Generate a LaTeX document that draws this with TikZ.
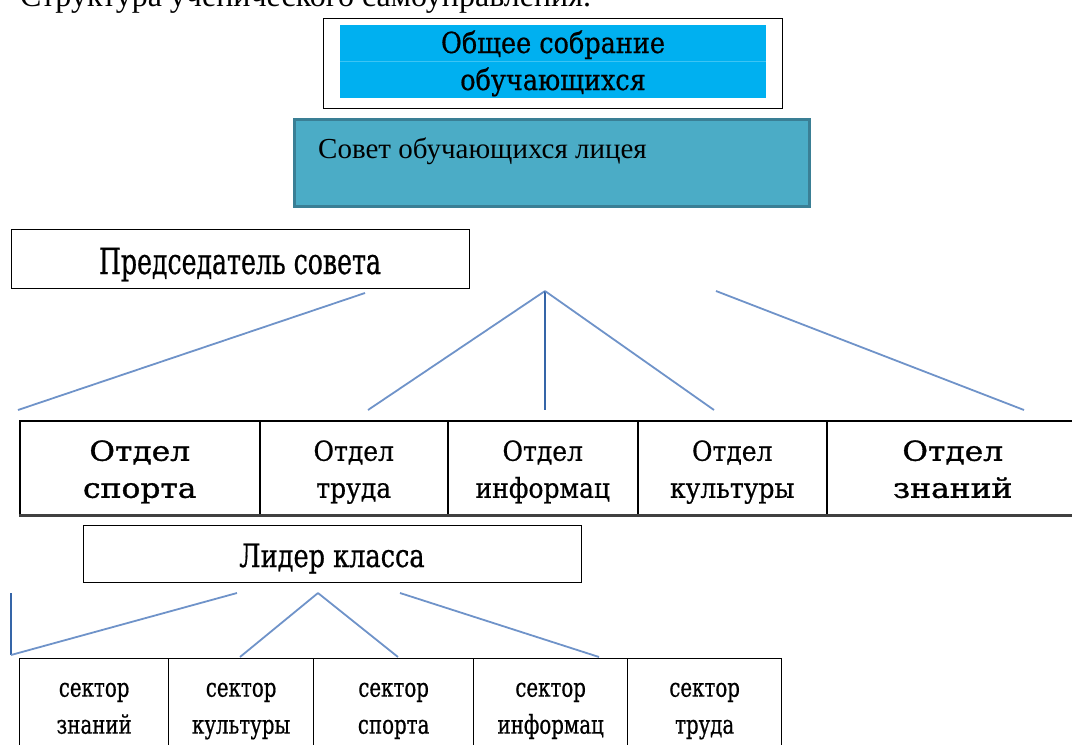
\documentclass[tikz,border=0pt]{standalone}
\usepackage{fontspec}
\setmainfont{Liberation Serif}
\newfontfamily\predf[FakeStretch=0.70,FakeBold=0.6]{DejaVu Serif}
\newfontfamily\lidf[FakeStretch=0.80,FakeBold=0.6]{DejaVu Serif}
\newfontfamily\genf[FakeStretch=0.88,FakeBold=0.6]{DejaVu Serif}
\newfontfamily\deptf[FakeStretch=0.91,FakeBold=0.6]{DejaVu Serif}
\newfontfamily\deptwf[FakeStretch=1.14,FakeBold=1.2]{DejaVu Serif}
\newfontfamily\sectf[FakeStretch=0.76,FakeBold=0.6]{DejaVu Serif}
\newcommand{\dstr}{\rule[-7pt]{0pt}{37pt}}
\newcommand{\sstr}{\rule[-11pt]{0pt}{37pt}}
\definecolor{cyanfill}{HTML}{00B0F0}
\definecolor{cyanline}{HTML}{3CC4F4}
\definecolor{tealfill}{HTML}{4BACC6}
\definecolor{tealdraw}{HTML}{3A7F95}
\definecolor{conn}{HTML}{6F93C9}
\definecolor{connd}{HTML}{3565A8}
\definecolor{rowbot}{HTML}{404040}
\begin{document}
\begin{tikzpicture}[x=1pt,y=-1pt,
  plainbox/.style={draw=black, line width=1.3pt, fill=white, anchor=north west, inner sep=0pt},
  cyancell/.style={fill=cyanfill, anchor=north west, inner sep=0pt, minimum width=426pt, minimum height=36.5pt},
  label/.style={anchor=base, inner sep=0pt},
  deptcell/.style={draw=black, line width=1.5pt, anchor=north west, inner sep=0pt, minimum height=94pt, align=center, font=\deptf\fontsize{27.5}{37}\selectfont},
  deptwide/.style={deptcell, font=\deptwf\fontsize{27.5}{37}\selectfont},
  sectcell/.style={draw=black, line width=1.3pt, anchor=north west, inner sep=0pt, minimum height=98pt, align=center, font=\sectf\fontsize{26}{37}\selectfont},
  link/.style={draw=conn, line width=1.8pt},
  vlink/.style={draw=connd, line width=2.2pt}]
\useasboundingbox (0,0) rectangle (1072,745);
\clip (0,0) rectangle (1072,745);

% title (cut off at top)
\node[anchor=base west, inner sep=0pt, font=\fontsize{32}{38}\selectfont] (title) at (20,6) {Структура ученического самоуправления.};

% general meeting
\node[plainbox, minimum width=459pt, minimum height=90pt] (gen) at (323,18) {};
\node[cyancell] (gen1) at (340,25) {};
\node[cyancell] (gen2) at (340,61.5) {};
\draw[cyanline, line width=1pt] (gen1.south west) -- (gen1.south east);
\node[label, font=\genf\fontsize{29}{34}\selectfont] (gen1t) at (553,53) {Общее собрание};
\node[label, font=\genf\fontsize{29}{34}\selectfont] (gen2t) at (553,90) {обучающихся};

% council
\node[draw=tealdraw, line width=3pt, fill=tealfill, anchor=north west, inner sep=0pt, minimum width=515pt, minimum height=87pt] (sov) at (293,118) {};
\node[anchor=base west, inner sep=0pt, font=\fontsize{29}{34}\selectfont] (sovt) at (318,158) {Совет обучающихся лицея};

% chairman
\node[plainbox, minimum width=458pt, minimum height=59pt] (pred) at (11,229) {};
\node[label, font=\predf\fontsize{36}{42}\selectfont] (predt) at (240,274) {Председатель совета};

% connectors upper
\coordinate (c1a) at (365,293);
\coordinate (c1b) at (18,410);
\coordinate (c2a) at (545,291);
\coordinate (c2b) at (368,410);
\coordinate (c3b) at (545,410);
\coordinate (c4b) at (714,410);
\coordinate (c5a) at (716,291);
\coordinate (c5b) at (1024,410);
\draw[link] (c1a) -- (c1b);
\draw[link] (c2a) -- (c2b);
\draw[vlink] (c2a) -- (c3b);
\draw[link] (c2a) -- (c4b);
\draw[link] (c5a) -- (c5b);

% departments
\node[deptwide, minimum width=240pt] (d1) at (19,420) {\dstr Отдел\\\dstr спорта};
\node[deptcell, minimum width=188pt] (d2) at (259,420) {\dstr Отдел\\\dstr труда};
\node[deptcell, minimum width=190pt] (d3) at (447,420) {\dstr Отдел\\\dstr информац};
\node[deptcell, minimum width=189pt] (d4) at (637,420) {\dstr Отдел\\\dstr культуры};
\node[deptwide, minimum width=252pt] (d5) at (826,420) {\dstr Отдел\\\dstr знаний};
\draw[rowbot, line width=2.5pt] (d1.south west) -- (d5.south east);

% class leader
\node[plainbox, minimum width=498pt, minimum height=57pt] (lid) at (83,525) {};
\node[label, font=\lidf\fontsize{32}{38}\selectfont] (lidt) at (332,567) {Лидер класса};

% connectors lower
\coordinate (e0a) at (11,593);
\coordinate (e0b) at (11,655);
\coordinate (e1a) at (237,593);
\coordinate (e2a) at (318,593);
\coordinate (e2b) at (240,657);
\coordinate (e3b) at (398,657);
\coordinate (e4a) at (400,593);
\coordinate (e4b) at (599,657);
\draw[vlink] (e0a) -- (e0b);
\draw[link] (e1a) -- (e0b);
\draw[link] (e2a) -- (e2b);
\draw[link] (e2a) -- (e3b);
\draw[link] (e4a) -- (e4b);

% sectors
\node[sectcell, minimum width=149pt] (s1) at (19,658) {\sstr сектор\\\sstr знаний};
\node[sectcell, minimum width=145pt] (s2) at (168,658) {\sstr сектор\\\sstr культуры};
\node[sectcell, minimum width=160pt] (s3) at (313,658) {\sstr сектор\\\sstr спорта};
\node[sectcell, minimum width=154pt] (s4) at (473,658) {\sstr сектор\\\sstr информац};
\node[sectcell, minimum width=154pt] (s5) at (627,658) {\sstr сектор\\\sstr труда};
\end{tikzpicture}
\end{document}
